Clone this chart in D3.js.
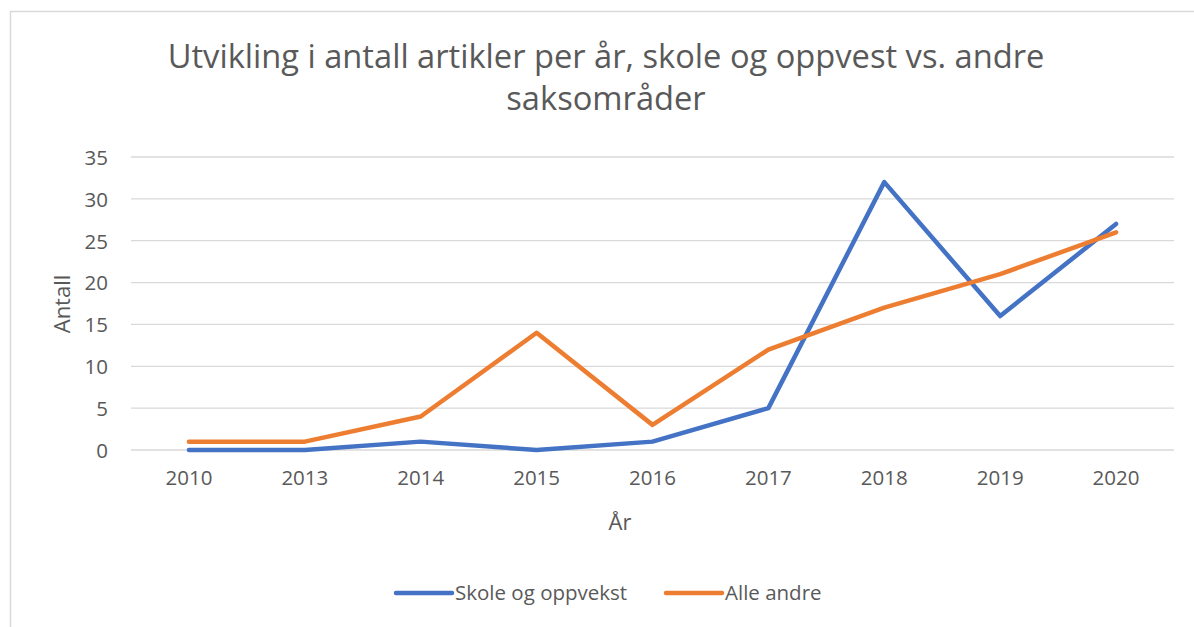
<!DOCTYPE html>
<html>
<head>
<meta charset="utf-8">
<script src="https://cdn.jsdelivr.net/npm/d3@7"></script>
<style>
  body { margin: 0; background: #fff; }
  #canvas { width: 1194px; height: 627px; }
  text { font-family: "Open Sans", "Noto Sans", sans-serif; fill: #595959; }
</style>
</head>
<body>
<div id="canvas"></div>
<script>
const years = ["2010", "2013", "2014", "2015", "2016", "2017", "2018", "2019", "2020"];
const skole = [0, 0, 1, 0, 1, 5, 32, 16, 27];
const andre = [1, 1, 4, 14, 3, 12, 17, 21, 26];
const yTicks = [0, 5, 10, 15, 20, 25, 30, 35];
const seriesNames = ["Skole og oppvekst", "Alle andre"];
const colors = ["#4472C4", "#ED7D31"];

const W = 1194, H = 627;
const plotLeft = 131, plotRight = 1174, plotTop = 157, plotBottom = 450;

const svg = d3.select("#canvas")
  .append("svg")
  .attr("width", W)
  .attr("height", H);

// chart frame (only left and top edges visible in the shot)
svg.append("rect")
  .attr("x", 10.5).attr("y", 11.5)
  .attr("width", W).attr("height", H)
  .attr("fill", "none")
  .attr("stroke", "#d9d9d9")
  .attr("stroke-width", 1.5);

// title, sized to fit the original width
const t1 = svg.append("text")
  .attr("x", 606).attr("y", 68)
  .attr("text-anchor", "middle")
  .style("font-size", "30px")
  .text("Utvikling i antall artikler per år, skole og oppvest vs. andre");
const fs = 30 * 877 / t1.node().getComputedTextLength();
t1.style("font-size", fs + "px");
svg.append("text")
  .attr("x", 606).attr("y", 110)
  .attr("text-anchor", "middle")
  .style("font-size", fs + "px")
  .text("saksområder");

const x = d3.scaleBand().domain(years).range([plotLeft, plotRight]);
const y = d3.scaleLinear().domain([0, 35]).range([plotBottom, plotTop]);

// gridlines
svg.append("g")
  .selectAll("line")
  .data(yTicks)
  .join("line")
  .attr("x1", plotLeft).attr("x2", plotRight)
  .attr("y1", d => y(d)).attr("y2", d => y(d))
  .attr("stroke", "#d9d9d9")
  .attr("stroke-width", 1.3);

// y axis labels
const yAxis = svg.append("g")
  .attr("transform", `translate(${plotLeft - 23},0)`)
  .call(d3.axisLeft(y).tickValues(yTicks).tickSize(0).tickPadding(0));
yAxis.select(".domain").remove();
yAxis.selectAll("text")
  .style("font-size", "20.5px")
  .style("fill", "#595959")
  .attr("dy", "0.36em");

// x axis labels
const xAxis = svg.append("g")
  .attr("transform", `translate(0,${plotBottom + 17})`)
  .call(d3.axisBottom(x).tickSize(0).tickPadding(0));
xAxis.select(".domain").remove();
xAxis.selectAll("text")
  .style("font-size", "20.5px")
  .style("fill", "#595959")
  .attr("dy", "0.9em");

// axis titles
svg.append("text")
  .attr("transform", "translate(70,304) rotate(-90)")
  .attr("text-anchor", "middle")
  .style("font-size", "22px")
  .text("Antall");
svg.append("text")
  .attr("x", 620).attr("y", 530)
  .attr("text-anchor", "middle")
  .style("font-size", "22px")
  .text("År");

// lines
const line = d3.line()
  .x((d, i) => x(years[i]) + x.bandwidth() / 2)
  .y(d => y(d));

[skole, andre].forEach(function(vals, k) {
  svg.append("path")
    .datum(vals)
    .attr("d", line)
    .attr("fill", "none")
    .attr("stroke", colors[k])
    .attr("stroke-width", 4.5)
    .attr("stroke-linejoin", "round")
    .attr("stroke-linecap", "round");
});

// legend
const legendX = [396, 666];
seriesNames.forEach(function(name, k) {
  const g = svg.append("g").attr("transform", `translate(${legendX[k]},593)`);
  g.append("line")
    .attr("x1", 0).attr("x2", 56)
    .attr("stroke", colors[k])
    .attr("stroke-width", 4.5)
    .attr("stroke-linecap", "round");
  g.append("text")
    .attr("x", 59).attr("dy", "0.35em")
    .style("font-size", "20.5px")
    .text(name);
});
</script>
</body>
</html>
